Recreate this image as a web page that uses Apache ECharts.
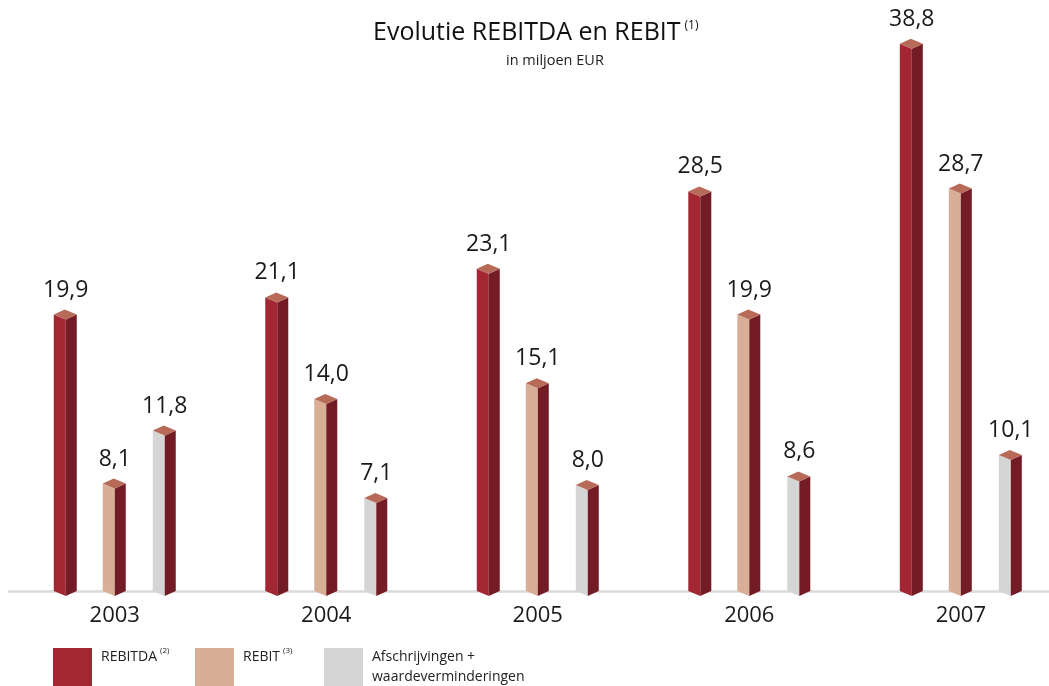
<!DOCTYPE html>
<html lang="nl">
<head>
    <meta charset="UTF-8">
    <title>Evolutie REBITDA en REBIT</title>
    <script src="https://cdn.jsdelivr.net/npm/echarts@6/dist/echarts.min.js"></script>
    <style>
        html, body { margin: 0; padding: 0; background: #fff; }
        #main { width: 1049px; height: 686px; }
    </style>
</head>
<body>
<div id="main"></div>
<script type="text/javascript">
    // data
    var years = ['2003', '2004', '2005', '2006', '2007'];
    var rebitda = [19.9, 21.1, 23.1, 28.5, 38.8];
    var rebit = [8.1, 14.0, 15.1, 19.9, 28.7];
    var afschrijvingen = [11.8, 7.1, 8.0, 8.6, 10.1];

    var seriesNames = ['REBITDA', 'REBIT', 'Afschrijvingen + waardeverminderingen'];
    var frontColors = ['#a32733', '#d8ae97', '#d5d5d5'];
    var sideColor = '#731c25';
    var topColor = '#b86a59';
    var barOffsets = [-49, 0, 50];   // middle edge offset from group centre
    var FONT = '"Open Sans", "Noto Sans", sans-serif';

    var myChart = echarts.init(document.getElementById('main'));

    function fmt(v) {
        return v.toFixed(1).replace('.', ',');
    }

    function makeRender(k) {
        return function (params, api) {
            var i = api.value(0);
            var v = api.value(1);
            var top = api.coord([i, v]);
            var base = api.coord([i, 0.6]);
            var cx = top[0] + barOffsets[k];
            var yt = top[1];
            var yb = base[1];
            var fw = 12, sw = 11, d = 5;
            return {
                type: 'group',
                children: [
                    {
                        type: 'polygon',
                        shape: { points: [[cx - fw, yt], [cx, yt + d], [cx, yb + d], [cx - fw, yb]] },
                        style: { fill: frontColors[k] }
                    },
                    {
                        type: 'polygon',
                        shape: { points: [[cx, yt + d], [cx + sw, yt], [cx + sw, yb], [cx, yb + d]] },
                        style: { fill: sideColor }
                    },
                    {
                        type: 'polygon',
                        shape: { points: [[cx - fw, yt], [cx - 1, yt - d], [cx + sw, yt], [cx, yt + d]] },
                        style: { fill: topColor }
                    },
                    {
                        type: 'text',
                        style: {
                            text: fmt(v),
                            x: cx,
                            y: yt - d - 8,
                            align: 'center',
                            verticalAlign: 'bottom',
                            fontFamily: FONT,
                            fontSize: 23,
                            fill: '#1a1a1a'
                        }
                    }
                ]
            };
        };
    }

    var allValues = [rebitda, rebit, afschrijvingen];
    var series = allValues.map(function (vals, k) {
        return {
            name: seriesNames[k],
            type: 'custom',
            renderItem: makeRender(k),
            encode: { x: 0, y: 1 },
            data: vals.map(function (v, i) { return [i, v]; }),
            z: 3
        };
    });

    function legendItem(x, color, text) {
        return [
            { type: 'rect', left: x, top: 648, shape: { width: 39, height: 39 }, style: { fill: color } },
            { type: 'text', left: x + 48, top: 647, style: { rich: text.rich, text: text.str, fontFamily: FONT, fontSize: 14, fill: '#222', lineHeight: 20 } }
        ];
    }

    var supRich = {
        s: { fontSize: 8, fontFamily: FONT, fill: '#222', verticalAlign: 'top', padding: [0, 0, 8, 3] }
    };

    var option = {
        animation: false,
        title: [
            {
                text: '{m|Evolutie REBITDA en REBIT}{s|(1)}',
                left: 368,
                top: 15,
                textStyle: {
                    rich: {
                        m: { fontSize: 25, fontWeight: 'normal', fontFamily: FONT, color: '#111' },
                        s: { fontSize: 12, fontWeight: 'normal', fontFamily: FONT, color: '#111', padding: [0, 0, 13, 4] }
                    }
                }
            },
            {
                text: 'in miljoen EUR',
                left: 501,
                top: 48,
                textStyle: { fontSize: 14.5, fontWeight: 'normal', fontFamily: FONT, color: '#222' }
            }
        ],
        grid: { left: 9, right: 0, top: 41, bottom: 95, containLabel: false },
        xAxis: {
            type: 'value',
            // one unit = one year group (211.5 px); the grid runs past the last group
            min: -0.5,
            max: 4.417,
            axisLine: { show: true, lineStyle: { color: '#dadada', width: 2.5 } },
            axisTick: { show: false },
            splitLine: { show: false },
            axisLabel: {
                customValues: [0, 1, 2, 3, 4],
                formatter: function (v) { return years[Math.round(v)]; },
                fontFamily: FONT, fontSize: 22, color: '#1a1a1a', margin: 14
            }
        },
        yAxis: {
            type: 'value',
            min: 0.6,
            max: 39,
            show: false,
            splitLine: { show: false }
        },
        series: series,
        graphic: [].concat(
            legendItem(53, frontColors[0], { str: 'REBITDA{s|(2)}', rich: supRich }),
            legendItem(195, frontColors[1], { str: 'REBIT{s|(3)}', rich: supRich }),
            legendItem(324, frontColors[2], { str: 'Afschrijvingen +\nwaardeverminderingen', rich: supRich })
        )
    };

    myChart.setOption(option);
</script>
</body>
</html>
